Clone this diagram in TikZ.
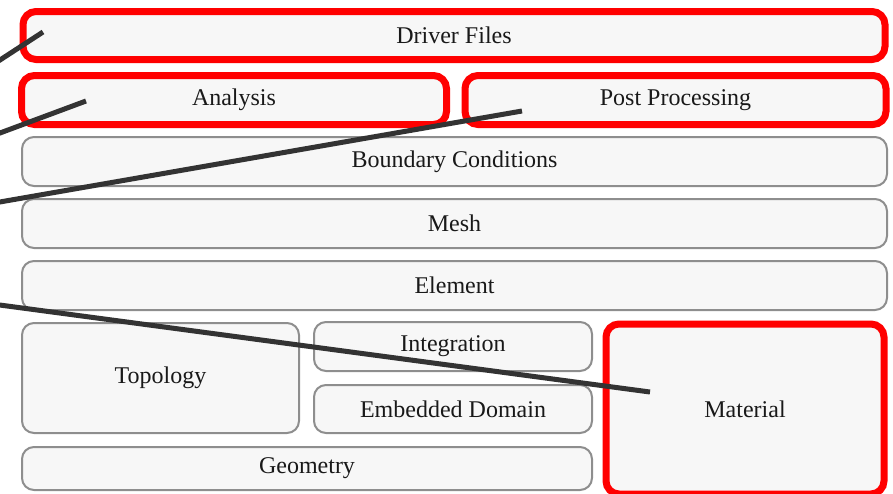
\documentclass[tikz,border=0pt]{standalone}
\usepackage{fontspec}
\setmainfont{Liberation Serif}
\begin{document}
\begin{tikzpicture}[x=1pt,y=-1pt,
  box/.style={rectangle, rounded corners=12pt, fill=boxfill, inner sep=0pt,
    font=\fontsize{24}{28}\selectfont, text=black!90},
  gbox/.style={box, draw=boxgray, line width=2pt},
  rbox/.style={box, draw=red, line width=7pt, rounded corners=13pt},
  pointer/.style={draw=linegray, line width=5pt}]
\definecolor{boxfill}{HTML}{F7F7F7}
\definecolor{boxgray}{HTML}{8E8E8E}
\definecolor{linegray}{HTML}{333333}
\useasboundingbox (0,0) rectangle (893,493);
\clip (0,0) rectangle (893,493);
% red boxes
\node[rbox, minimum width=862pt, minimum height=48pt] (driver) at (454,35.5) {Driver Files};
\node[rbox, minimum width=425pt, minimum height=49pt] (analysis) at (234,100) {Analysis};
\node[rbox, minimum width=421pt, minimum height=49pt] (post) at (675.5,100) {Post Processing};
% gray boxes
\node[gbox, minimum width=865pt, minimum height=49pt] (bc) at (454.5,161.5) {Boundary Conditions};
\node[gbox, minimum width=865pt, minimum height=49pt] (mesh) at (454.5,223.5) {Mesh};
\node[gbox, minimum width=865pt, minimum height=49pt] (element) at (454.5,285.5) {Element};
\node[gbox, minimum width=277pt, minimum height=110pt] (topology) at (160.5,378) {Topology};
\node[gbox, minimum width=278pt, minimum height=49pt] (integration) at (453,346.5) {Integration};
\node[gbox, minimum width=278pt, minimum height=48pt] (embedded) at (453,409) {Embedded Domain};
\node[gbox, minimum width=570pt, minimum height=43pt] (geometry) at (307,468.5) {Geometry};
\node[rbox, minimum width=278pt, minimum height=170pt] (material) at (745,409) {Material};
% pointer lines
\coordinate (s1) at (-10,66.5);
\coordinate (e1) at (43,32);
\coordinate (s2) at (-10,136.7);
\coordinate (e2) at (86,101);
\coordinate (s3) at (-10,203.7);
\coordinate (e3) at (522,111);
\coordinate (s4) at (-10,303.7);
\coordinate (e4) at (650,392);
\draw[pointer] (s1) -- (e1);
\draw[pointer] (s2) -- (e2);
\draw[pointer] (s3) -- (e3);
\draw[pointer] (s4) -- (e4);
\end{tikzpicture}
\end{document}
